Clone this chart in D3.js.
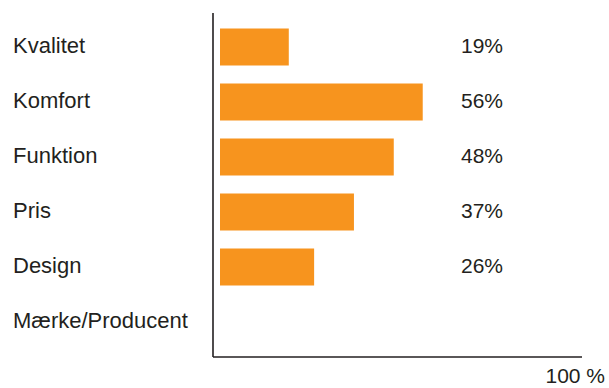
<!DOCTYPE html>
<html>
<head>
<meta charset="utf-8">
<script src="https://cdn.jsdelivr.net/npm/d3@7"></script>
<style>
  body { margin: 0; background: #fff; }
  text { font-family: "Liberation Sans", Arial, Helvetica, sans-serif; fill: #231f20; }
</style>
</head>
<body>
<div id="chart"></div>
<script>
var svgWidth = 609
var svgHeight = 388

var categories = ["Kvalitet", "Komfort", "Funktion", "Pris", "Design", "Mærke/Producent"]
var values = [19, 56, 48, 37, 26, null]
var maxLabel = "100 %"

var svg = d3.select("#chart")
    .append("svg")
    .attr("width", svgWidth)
    .attr("height", svgHeight)

var xScale = d3.scaleLinear()
    .domain([0, 100])
    .range([220, 582])

var yScale = d3.scalePoint()
    .domain(categories)
    .range([47, 322])

var barHeight = 37

// axis lines
svg.append("line")
    .attr("x1", 213).attr("x2", 213)
    .attr("y1", 13).attr("y2", 357)
    .attr("stroke", "#231f20")
    .attr("stroke-width", 1.6)

svg.append("line")
    .attr("x1", 213).attr("x2", xScale(100))
    .attr("y1", 357).attr("y2", 357)
    .attr("stroke", "#231f20")
    .attr("stroke-width", 1.6)

var rows = categories.map((c, i) => ({ name: c, value: values[i] }))

svg.selectAll("rect.bar")
    .data(rows.filter(d => d.value != null))
    .enter()
    .append("rect")
    .attr("class", "bar")
    .attr("x", xScale(0))
    .attr("y", d => yScale(d.name) - barHeight / 2)
    .attr("width", d => xScale(d.value) - xScale(0))
    .attr("height", barHeight)
    .attr("fill", "#f7941e")

svg.selectAll("text.cat")
    .data(rows)
    .enter()
    .append("text")
    .attr("class", "cat")
    .attr("x", 13)
    .attr("y", d => yScale(d.name) + 6)
    .attr("font-size", 22)
    .text(d => d.name)

svg.selectAll("text.pct")
    .data(rows.filter(d => d.value != null))
    .enter()
    .append("text")
    .attr("class", "pct")
    .attr("x", 461)
    .attr("y", d => yScale(d.name) + 6)
    .attr("font-size", 21)
    .text(d => d.value + "%")

svg.append("text")
    .attr("x", 605)
    .attr("y", 383)
    .attr("text-anchor", "end")
    .attr("font-size", 21)
    .text(maxLabel)
</script>
</body>
</html>
